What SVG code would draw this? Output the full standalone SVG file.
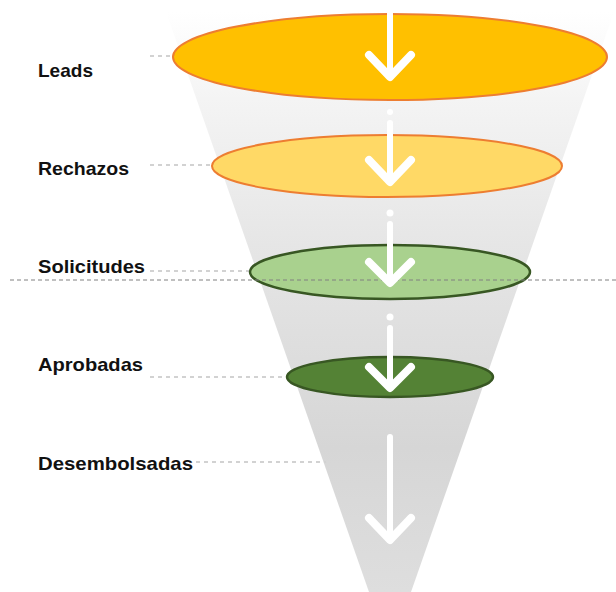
<svg xmlns="http://www.w3.org/2000/svg" width="616" height="592" viewBox="0 0 616 592">
  <defs>
    <linearGradient id="funnelGrad" x1="0" y1="12" x2="0" y2="592" gradientUnits="userSpaceOnUse">
      <stop offset="0" stop-color="#ffffff"/>
      <stop offset="0.15" stop-color="#f4f4f4"/>
      <stop offset="0.4" stop-color="#e6e6e6"/>
      <stop offset="0.75" stop-color="#d6d6d6"/>
      <stop offset="1" stop-color="#dedede"/>
    </linearGradient>
  </defs>
  <style>
    .label { font-family: "Liberation Sans", Arial, sans-serif; font-weight: bold; font-size: 19px; fill: #111111; }
    .leader { stroke: #d2d2d2; stroke-width: 2; stroke-dasharray: 4 4; fill: none; }
    .orange { stroke: #ED7D31; stroke-width: 2; }
    .green { stroke: #385723; stroke-width: 2.5; }
    .shaft { stroke: #ffffff; stroke-width: 6; stroke-linecap: round; fill: none; }
    .head { stroke: #ffffff; stroke-width: 8; stroke-linecap: round; stroke-linejoin: round; fill: none; }
  </style>
  <rect width="616" height="592" fill="#ffffff"/>
  <polygon id="funnel" points="166,12 614,12 411,592 369,592" fill="url(#funnelGrad)"/>

  <g id="leads">
    <line class="leader" x1="150" y1="56" x2="172" y2="56"/>
    <ellipse cx="390" cy="57" rx="217" ry="43" fill="#FFC000" class="orange"/>
    <text class="label" x="38" y="77" textLength="55" lengthAdjust="spacingAndGlyphs">Leads</text>
  </g>
  <g id="rechazos">
    <line class="leader" x1="150" y1="165" x2="212" y2="165"/>
    <ellipse cx="387" cy="166" rx="175" ry="31" fill="#FFD966" class="orange"/>
    <text class="label" x="38" y="175" textLength="91" lengthAdjust="spacingAndGlyphs">Rechazos</text>
  </g>
  <g id="solicitudes">
    <line class="leader" x1="150" y1="271" x2="250" y2="271"/>
    <ellipse cx="390" cy="272" rx="140" ry="27" fill="#A9D18E" class="green"/>
    <text class="label" x="38" y="273" textLength="107" lengthAdjust="spacingAndGlyphs">Solicitudes</text>
  </g>
  <g id="aprobadas">
    <line class="leader" x1="150" y1="377" x2="287" y2="377"/>
    <ellipse cx="390" cy="377" rx="103" ry="20" fill="#548235" class="green"/>
    <text class="label" x="38" y="371" textLength="105" lengthAdjust="spacingAndGlyphs">Aprobadas</text>
  </g>
  <g id="desembolsadas">
    <line class="leader" x1="196" y1="462" x2="326" y2="462"/>
    <text class="label" x="38" y="470" textLength="155" lengthAdjust="spacingAndGlyphs">Desembolsadas</text>
  </g>

  <line id="divider" x1="10" y1="280" x2="616" y2="280" stroke="#808080" stroke-width="1" stroke-dasharray="4 3"/>

  <g id="connectors">
    <line class="shaft" x1="390" y1="12" x2="390" y2="76"/>
    <polyline class="head" points="369,55 390,77 411,55"/>

    <circle cx="390" cy="112" r="3" fill="#ffffff"/>
    <line class="shaft" x1="390" y1="123" x2="390" y2="180"/>
    <polyline class="head" points="369,160 390,182 411,160"/>

    <circle cx="390" cy="213" r="3.5" fill="#ffffff"/>
    <line class="shaft" x1="390" y1="224" x2="390" y2="281"/>
    <polyline class="head" points="369,262 390,283 411,262"/>

    <circle cx="390" cy="317" r="3.5" fill="#ffffff"/>
    <line class="shaft" x1="390" y1="328" x2="390" y2="386"/>
    <polyline class="head" points="369,367 390,388 411,367"/>

    <line class="shaft" x1="390" y1="437" x2="390" y2="538"/>
    <polyline class="head" points="369,518 390,540 411,518"/>
  </g>
</svg>
